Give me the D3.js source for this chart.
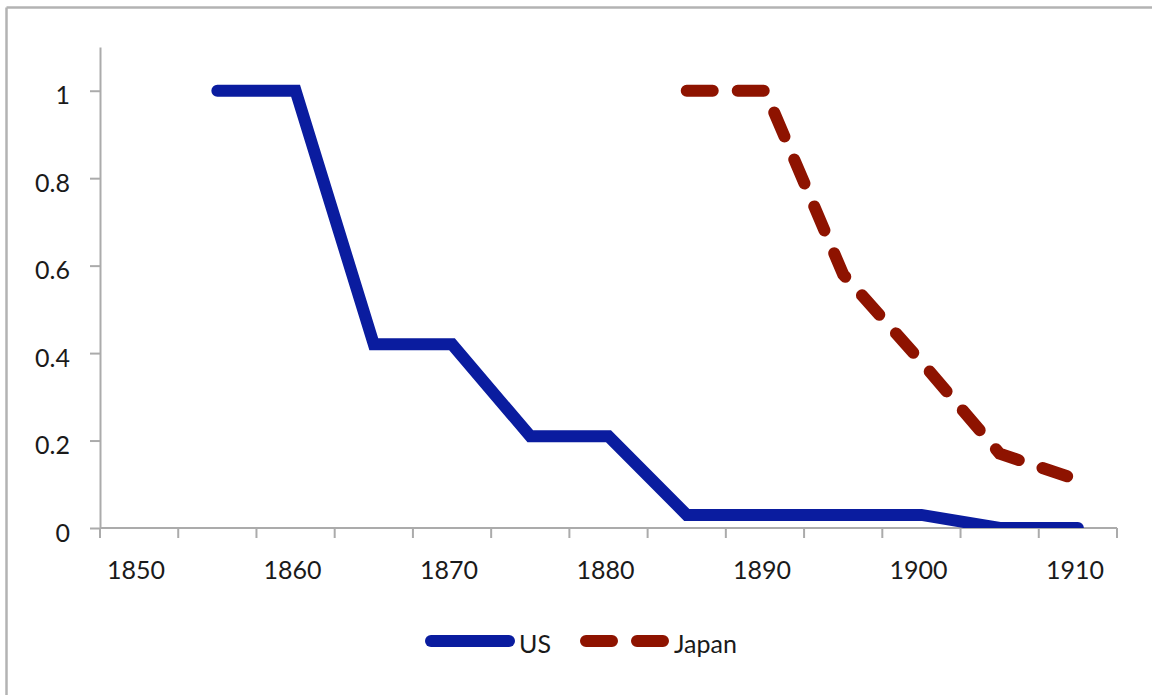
<!DOCTYPE html>
<html>
<head>
<meta charset="utf-8">
<script src="https://cdn.jsdelivr.net/npm/d3@7"></script>
<style>
  html, body { margin: 0; padding: 0; background: #fff; }
  svg { display: block; }
  text { font-family: Lato, "Open Sans", sans-serif; fill: #1a1a1a; }
</style>
</head>
<body>
<svg id="chart" width="1152" height="695"></svg>
<script>
// Categories (5-year steps) and the labels shown on the x axis
const years = [1850, 1855, 1860, 1865, 1870, 1875, 1880, 1885, 1890, 1895, 1900, 1905, 1910];
const yearLabels = [1850, 1860, 1870, 1880, 1890, 1900, 1910];
// Series values per category (null = no data)
const usValues    = [null, 1, 1, 0.42, 0.42, 0.21, 0.21, 0.03, 0.03, 0.03, 0.03, 0, 0];
const japanValues = [null, null, null, null, null, null, null, 1, 1, 0.58, 0.38, 0.17, 0.11];
const yTicks = [0, 0.2, 0.4, 0.6, 0.8, 1];
const seriesNames = ["US", "Japan"];

const svg = d3.select("#chart");
const W = 1152, H = 695;
const plot = { left: 100, right: 1117, top: 47, bottom: 528 };

const axisColor = "#ababab";
const colors = { US: "#0a1c9f", Japan: "#8e1300" };
const lineW = 12;
const dash = "26,25";

// Outer frame (only top and left edges fall inside the view)
svg.append("line").attr("x1", 6.5).attr("x2", 6.5).attr("y1", 7.5).attr("y2", H)
  .attr("stroke", "#b3b3b3").attr("stroke-width", 2.5);
svg.append("line").attr("x1", 6.5).attr("x2", W).attr("y1", 7.5).attr("y2", 7.5)
  .attr("stroke", "#b3b3b3").attr("stroke-width", 2.5);

const x = d3.scaleBand().domain(years).range([plot.left, plot.right]).padding(0);
const y = d3.scaleLinear().domain([0, 1.1]).range([plot.bottom, plot.top]);
const cx = d => x(d) + x.bandwidth() / 2;

// Y axis
const yAxis = d3.axisLeft(y).tickValues(yTicks).tickSize(10).tickSizeOuter(0)
  .tickFormat(d => String(+d.toFixed(1)));
const gy = svg.append("g").attr("transform", `translate(${plot.left},0)`).call(yAxis);
gy.select(".domain").attr("stroke", axisColor).attr("stroke-width", 2);
gy.selectAll(".tick line").attr("stroke", axisColor).attr("stroke-width", 2);
gy.selectAll(".tick text")
  .attr("x", -30).attr("dy", null).attr("y", 13)
  .style("font-size", "25px").style("font-family", "Lato, sans-serif")
  .attr("fill", "#1a1a1a");
gy.attr("font-size", null).attr("font-family", null);

// X axis: line, tick marks on category boundaries, labels on category centres
const gx = svg.append("g");
gx.append("line").attr("x1", plot.left).attr("x2", plot.right)
  .attr("y1", plot.bottom).attr("y2", plot.bottom)
  .attr("stroke", axisColor).attr("stroke-width", 2);
const bounds = years.map(d => x(d)).concat([x.range()[1]]);
gx.selectAll("line.tick").data(bounds).join("line").attr("class", "tick")
  .attr("x1", d => d).attr("x2", d => d)
  .attr("y1", plot.bottom).attr("y2", plot.bottom + 10)
  .attr("stroke", axisColor).attr("stroke-width", 2);
gx.selectAll("text").data(yearLabels).join("text")
  .attr("x", d => cx(d) - 3).attr("y", 579)
  .attr("text-anchor", "middle").style("font-size", "25px")
  .text(d => d);

// Series lines, clipped to the plot area
svg.append("clipPath").attr("id", "plotClip").append("rect")
  .attr("x", 0).attr("y", plot.top - 20).attr("width", W).attr("height", plot.bottom - plot.top + 20);

const rows = years.map((yr, i) => ({ yr, US: usValues[i], Japan: japanValues[i] }));
const lineFor = key => d3.line()
  .defined(d => d[key] != null)
  .x(d => cx(d.yr)).y(d => y(d[key]));

const gLines = svg.append("g").attr("clip-path", "url(#plotClip)");
gLines.append("path").datum(rows.filter(d => d.US != null))
  .attr("d", lineFor("US")).attr("fill", "none")
  .attr("stroke", colors.US).attr("stroke-width", lineW)
  .attr("stroke-linecap", "round").attr("stroke-linejoin", "miter");
gLines.append("path").datum(rows.filter(d => d.Japan != null))
  .attr("d", lineFor("Japan")).attr("fill", "none")
  .attr("stroke", colors.Japan).attr("stroke-width", lineW)
  .attr("stroke-dasharray", dash)
  .attr("stroke-linecap", "round").attr("stroke-linejoin", "miter");

// Legend
const legend = [
  { name: seriesNames[0], x0: 431, x1: 509, tx: 519, dashed: false },
  { name: seriesNames[1], x0: 586, x1: 663, tx: 674, dashed: true }
];
const gl = svg.append("g");
legend.forEach(l => {
  gl.append("line").attr("x1", l.x0).attr("x2", l.x1).attr("y1", 641).attr("y2", 641)
    .attr("stroke", colors[l.name]).attr("stroke-width", lineW)
    .attr("stroke-linecap", "round")
    .attr("stroke-dasharray", l.dashed ? dash : null);
  gl.append("text").attr("x", l.tx).attr("y", 653).style("font-size", "25px").text(l.name);
});
</script>
</body>
</html>
